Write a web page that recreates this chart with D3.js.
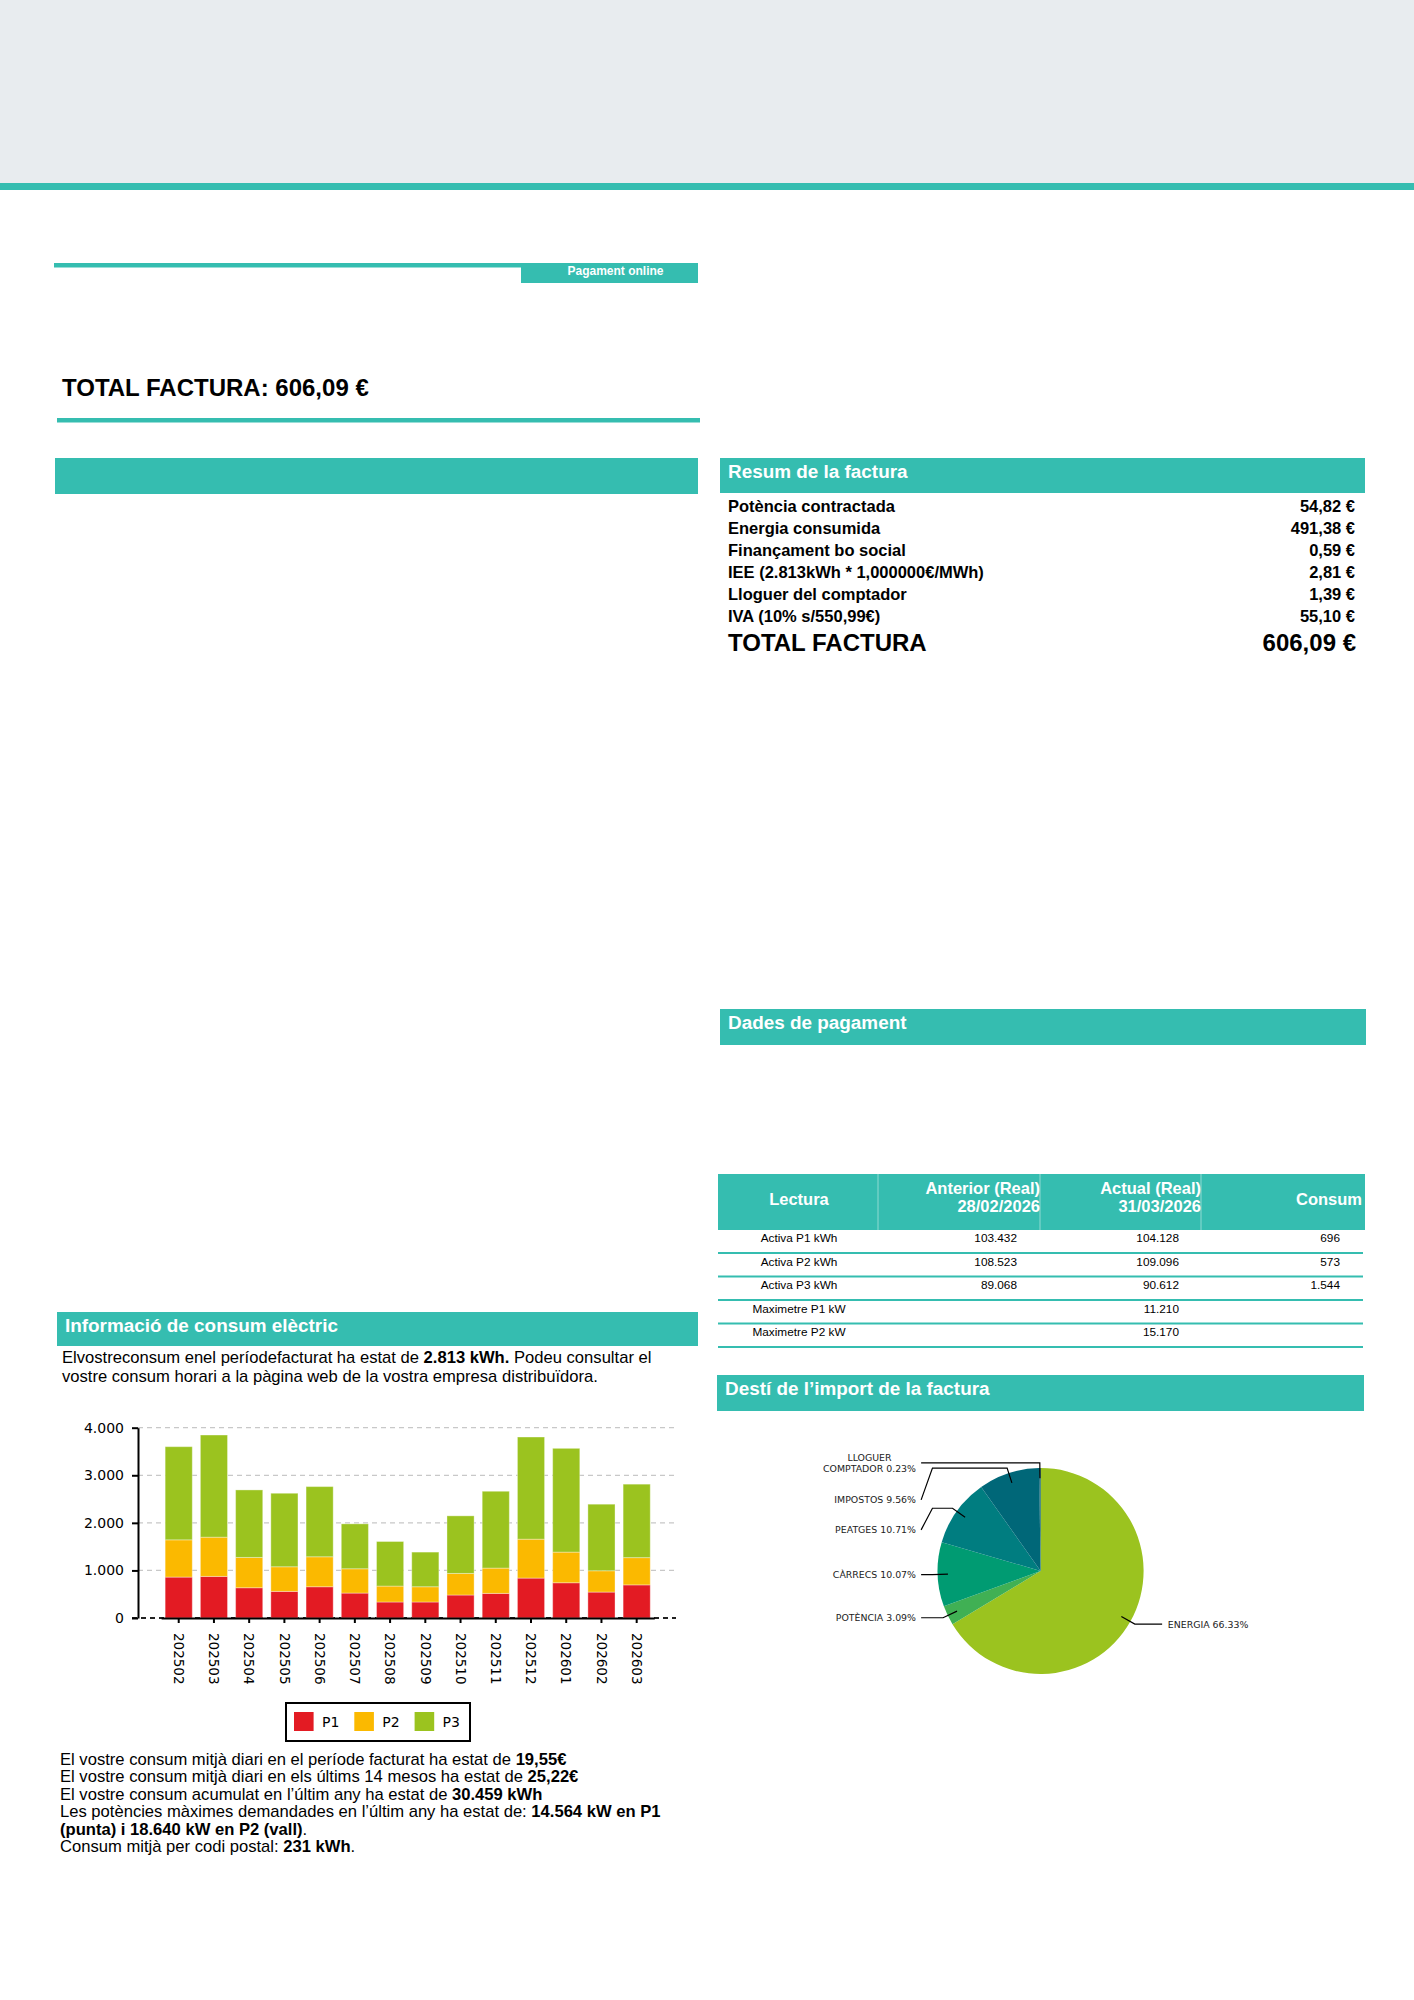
<!DOCTYPE html>
<html>
<head>
<meta charset="utf-8">
<script src="https://cdn.jsdelivr.net/npm/d3@7"></script>
<style>
  html, body { margin: 0; padding: 0; background: #fff; }
  svg { display: block; }
  text { white-space: pre; }
</style>
</head>
<body>
<script>
const months = ['202502', '202503', '202504', '202505', '202506', '202507', '202508',
                '202509', '202510', '202511', '202512', '202601', '202602', '202603'];
const p1 = [860, 874, 636, 559, 657, 524, 336, 336, 483, 517, 839, 741, 545, 696];
const p2 = [783, 825, 637, 518, 630, 511, 335, 321, 454, 532, 818, 644, 448, 573];
const p3 = [1958, 2147, 1419, 1545, 1475, 944, 937, 728, 1210, 1615, 2147, 2181, 1399, 1544];
const periodNames = ['P1', 'P2', 'P3'];
const yTicks = [0, 1000, 2000, 3000, 4000];

const pieNames = ['ENERGIA', 'POTÈNCIA', 'CÀRRECS', 'PEATGES', 'IMPOSTOS', 'LLOGUER\nCOMPTADOR'];
const pieValues = [66.33, 3.09, 10.07, 10.71, 9.56, 0.23];

const resumLabels = ['Potència contractada', 'Energia consumida', 'Finançament bo social',
                     'IEE (2.813kWh * 1,000000€/MWh)', 'Lloguer del comptador', 'IVA (10% s/550,99€)'];
const resumValues = ['54,82 €', '491,38 €', '0,59 €', '2,81 €', '1,39 €', '55,10 €'];
const totalFactura = '606,09 €';

const lecturaLabels = ['Activa P1 kWh', 'Activa P2 kWh', 'Activa P3 kWh', 'Maximetre P1 kW', 'Maximetre P2 kW'];
const lecturaAnterior = ['103.432', '108.523', '89.068', '', ''];
const lecturaActual = ['104.128', '109.096', '90.612', '11.210', '15.170'];
const lecturaConsum = ['696', '573', '1.544', '', ''];

const introLines = [
  [['Elvostreconsum enel períodefacturat ha estat de ', 0], ['2.813 kWh.', 1], [' Podeu consultar el', 0]],
  [['vostre consum horari a la pàgina web de la vostra empresa distribuïdora.', 0]]
];
const summaryLines = [
  [['El vostre consum mitjà diari en el període facturat ha estat de ', 0], ['19,55€', 1]],
  [['El vostre consum mitjà diari en els últims 14 mesos ha estat de ', 0], ['25,22€', 1]],
  [['El vostre consum acumulat en l’últim any ha estat de ', 0], ['30.459 kWh', 1]],
  [['Les potències màximes demandades en l’últim any ha estat de: ', 0], ['14.564 kW en P1', 1]],
  [['(punta) i 18.640 kW en P2 (vall)', 1], ['.', 0]],
  [['Consum mitjà per codi postal: ', 0], ['231 kWh', 1], ['.', 0]]
];

// ---- styles ----
const TEAL = '#35bdb0';
const DOC_FONT = '"Liberation Sans", Arial, sans-serif';
const CHART_FONT = '"DejaVu Sans", sans-serif';
const periodColors = ['#e31b23', '#fbb900', '#9bc31f'];
const pieColors = ['#9bc31f', '#40b054', '#009b72', '#007d80', '#006778', '#005a6e'];

const svg = d3.select('body').append('svg')
  .attr('width', 1414)
  .attr('height', 2000);

// helper: section header band with white title
function header(x0, x1, y0, y1, title) {
  svg.append('rect').attr('x', x0).attr('y', y0)
    .attr('width', x1 - x0).attr('height', y1 - y0).attr('fill', TEAL);
  if (title) {
    svg.append('text').attr('x', x0 + 8).attr('y', y0 + 20)
      .attr('font-family', DOC_FONT).attr('font-size', 18.9).attr('font-weight', 'bold')
      .attr('fill', '#fff').text(title);
  }
}

// helper: lines of text made of plain / bold runs
function richText(lines, x, y0, lineH, size) {
  lines.forEach((runs, i) => {
    const t = svg.append('text').attr('x', x).attr('y', y0 + i * lineH)
      .attr('font-family', DOC_FONT).attr('font-size', size).attr('fill', '#000');
    runs.forEach(([s, b]) => t.append('tspan').attr('font-weight', b ? 'bold' : 'normal').text(s));
  });
}

// ---- page top ----
svg.append('rect').attr('x', 0).attr('y', 0).attr('width', 1414).attr('height', 183).attr('fill', '#e8ecef');
svg.append('rect').attr('x', 0).attr('y', 183).attr('width', 1414).attr('height', 7).attr('fill', TEAL);

svg.append('rect').attr('x', 54).attr('y', 263).attr('width', 467).attr('height', 4.5).attr('fill', TEAL);
svg.append('rect').attr('x', 521).attr('y', 263).attr('width', 177).attr('height', 20).attr('fill', TEAL);
svg.append('text').attr('x', 615.5).attr('y', 275).attr('text-anchor', 'middle')
  .attr('font-family', DOC_FONT).attr('font-size', 12).attr('font-weight', 'bold')
  .attr('fill', '#fff').text('Pagament online');

svg.append('text').attr('x', 62).attr('y', 396)
  .attr('font-family', DOC_FONT).attr('font-size', 24).attr('font-weight', 'bold')
  .text('TOTAL FACTURA: ' + totalFactura);
svg.append('rect').attr('x', 57).attr('y', 418).attr('width', 643).attr('height', 4.5).attr('fill', TEAL);

header(55, 698, 458, 494, null);

// ---- Resum de la factura ----
header(720, 1365, 458, 493, 'Resum de la factura');
resumLabels.forEach((lab, i) => {
  const y = 512 + i * 22;
  svg.append('text').attr('x', 728).attr('y', y)
    .attr('font-family', DOC_FONT).attr('font-size', 16.5).attr('font-weight', 'bold').text(lab);
  svg.append('text').attr('x', 1355).attr('y', y).attr('text-anchor', 'end')
    .attr('font-family', DOC_FONT).attr('font-size', 16.5).attr('font-weight', 'bold').text(resumValues[i]);
});
svg.append('text').attr('x', 728).attr('y', 651)
  .attr('font-family', DOC_FONT).attr('font-size', 24).attr('font-weight', 'bold').text('TOTAL FACTURA');
svg.append('text').attr('x', 1356).attr('y', 651).attr('text-anchor', 'end')
  .attr('font-family', DOC_FONT).attr('font-size', 24).attr('font-weight', 'bold').text(totalFactura);

// ---- Dades de pagament ----
header(720, 1366, 1009, 1045, 'Dades de pagament');

// ---- lectures table ----
const tbl = { x0: 718, x1: 1365, y0: 1174, y1: 1230, rowH: 23.5 };
svg.append('rect').attr('x', tbl.x0).attr('y', tbl.y0)
  .attr('width', tbl.x1 - tbl.x0).attr('height', tbl.y1 - tbl.y0).attr('fill', TEAL);
[878, 1040, 1201].forEach(x => {
  svg.append('line').attr('x1', x).attr('x2', x).attr('y1', tbl.y0).attr('y2', tbl.y1)
    .attr('stroke', '#8fdad2').attr('stroke-width', 1);
});
const hdr = (x, y, anchor, s) => svg.append('text').attr('x', x).attr('y', y).attr('text-anchor', anchor)
  .attr('font-family', DOC_FONT).attr('font-size', 16.5).attr('font-weight', 'bold').attr('fill', '#fff').text(s);
hdr(799, 1205, 'middle', 'Lectura');
hdr(1040, 1194, 'end', 'Anterior (Real)');
hdr(1040, 1212, 'end', '28/02/2026');
hdr(1201, 1194, 'end', 'Actual (Real)');
hdr(1201, 1212, 'end', '31/03/2026');
hdr(1362, 1205, 'end', 'Consum');

lecturaLabels.forEach((lab, i) => {
  const y = 1242 + i * tbl.rowH;
  const cell = (x, anchor, s) => svg.append('text').attr('x', x).attr('y', y).attr('text-anchor', anchor)
    .attr('font-family', DOC_FONT).attr('font-size', 11.8).text(s);
  cell(799, 'middle', lab);
  cell(1017, 'end', lecturaAnterior[i]);
  cell(1179, 'end', lecturaActual[i]);
  cell(1340, 'end', lecturaConsum[i]);
  svg.append('line').attr('x1', tbl.x0).attr('x2', 1363)
    .attr('y1', y + 11).attr('y2', y + 11).attr('stroke', TEAL).attr('stroke-width', 2);
});

// ---- Informació de consum elèctric ----
header(57, 698, 1312, 1346, 'Informació de consum elèctric');
richText(introLines, 62, 1363, 18.5, 16.6);

// stacked bar chart
const chart = { left: 138, right: 676, top: 1427.7, bottom: 1618 };
const x = d3.scaleBand().domain(months).range([161.1, 654.3]).paddingInner(0.23).paddingOuter(0.115);
const y = d3.scaleLinear().domain([0, 4000]).range([chart.bottom, chart.top]);
const fmt = d3.formatLocale({ decimal: ',', thousands: '.', grouping: [3], currency: ['', '€'] }).format(',');

const rows = months.map((m, i) => ({ month: m, P1: p1[i], P2: p2[i], P3: p3[i] }));
const stacked = d3.stack().keys(periodNames)(rows);

const g = svg.append('g');
g.selectAll('.grid').data(yTicks.filter(v => v > 0)).enter().append('line')
  .attr('x1', chart.left).attr('x2', chart.right)
  .attr('y1', d => y(d)).attr('y2', d => y(d))
  .attr('stroke', '#c8c8c8').attr('stroke-width', 1.2).attr('stroke-dasharray', '5,4');
g.append('line').attr('x1', chart.left - 6).attr('x2', chart.right)
  .attr('y1', y(0)).attr('y2', y(0))
  .attr('stroke', '#222').attr('stroke-width', 2).attr('stroke-dasharray', '5,4');

g.selectAll('.layer').data(stacked).enter().append('g')
  .attr('fill', (d, i) => periodColors[i])
  .selectAll('rect').data(d => d).enter().append('rect')
  .attr('x', d => x(d.data.month))
  .attr('y', d => y(d[1]))
  .attr('width', x.bandwidth())
  .attr('height', d => y(d[0]) - y(d[1]))
  .attr('stroke', 'rgba(255,255,255,0.35)').attr('stroke-width', 1);

const yAxis = g.append('g').attr('transform', `translate(${chart.left},0)`)
  .call(d3.axisLeft(y).tickValues(yTicks).tickFormat(fmt).tickSize(6).tickSizeOuter(0).tickPadding(8));
yAxis.select('.domain').attr('stroke-width', 2);
yAxis.selectAll('.tick line').attr('stroke-width', 2);
yAxis.selectAll('text').attr('font-family', CHART_FONT).attr('font-size', 14).attr('fill', '#000');

const xAxis = g.append('g').attr('transform', `translate(0,${chart.bottom})`)
  .call(d3.axisBottom(x).tickSize(5).tickSizeOuter(0));
xAxis.select('.domain').attr('stroke-width', 2);
xAxis.selectAll('.tick line').attr('stroke-width', 2);
xAxis.selectAll('text')
  .attr('font-family', CHART_FONT).attr('font-size', 13.5).attr('fill', '#000')
  .attr('transform', 'rotate(90)')
  .attr('x', 15).attr('y', 0).attr('dy', '0.35em')
  .attr('text-anchor', 'start');

// legend
const legend = svg.append('g');
legend.append('rect').attr('x', 286).attr('y', 1703).attr('width', 184).attr('height', 38)
  .attr('fill', '#fff').attr('stroke', '#000').attr('stroke-width', 2);
periodNames.forEach((name, i) => {
  const lx = 294 + i * 60.3;
  legend.append('rect').attr('x', lx).attr('y', 1712).attr('width', 19.6).attr('height', 19)
    .attr('fill', periodColors[i]);
  legend.append('text').attr('x', lx + 28).attr('y', 1727)
    .attr('font-family', CHART_FONT).attr('font-size', 14).text(name);
});

richText(summaryLines, 60, 1765, 17.45, 16.6);

// ---- Destí de l'import de la factura ----
header(717, 1364, 1375, 1411, 'Destí de l’import de la factura');

const pie = { cx: 1040.6, cy: 1571, r: 103 };
const arcs = d3.pie().sort(null).value(d => d)(pieValues);
const arc = d3.arc().innerRadius(0).outerRadius(pie.r);
const pg = svg.append('g').attr('transform', `translate(${pie.cx},${pie.cy})`);
pg.selectAll('path').data(arcs).enter().append('path')
  .attr('d', arc).attr('fill', (d, i) => pieColors[i]);

// label placement: start at 0.9r on the mid angle, push left labels apart
const labels = arcs.map((a, i) => {
  const mid = (a.startAngle + a.endAngle) / 2;
  const s = Math.sin(mid), c = Math.cos(mid);
  const lines = pieNames[i].split('\n');
  lines[lines.length - 1] += ' ' + pieValues[i].toFixed(2) + '%';
  return { s, c, side: s >= 0 ? 1 : -1, y0: -1.05 * pie.r * c, lines };
});
[-1, 1].forEach(side => {
  const group = labels.filter(l => l.side === side).sort((a, b) => a.y0 - b.y0);
  let prev = null;
  group.forEach(l => {
    l.yt = prev ? Math.max(l.y0, prev.yt + 30 + 7 * (prev.lines.length - 1)) : l.y0;
    prev = l;
  });
});

labels.forEach(l => {
  const r = pie.r;
  const pts = [
    [0.9 * r * l.s, -0.9 * r * l.c],
    [1.05 * r * l.s, -1.05 * r * l.c],
    [l.side * 1.05 * r, l.y0],
    [l.side * (l.side > 0 ? 1.18 : 1.16) * r, l.yt]
  ];
  pg.append('path').attr('d', d3.line()(pts))
    .attr('fill', 'none').attr('stroke', '#000').attr('stroke-width', 1.2);

  const tx = l.side * (l.side > 0 ? 1.235 : 1.21) * r;
  const t = pg.append('text').attr('font-family', CHART_FONT).attr('font-size', 9.4).attr('fill', '#222');
  const n = l.lines.length;
  const spans = l.lines.map((s, i) => t.append('tspan')
    .attr('y', l.yt + 3.5 + (i - (n - 1) / 2) * 10.6).text(s));
  if (n === 1) {
    spans[0].attr('x', tx).attr('text-anchor', l.side < 0 ? 'end' : 'start');
  } else {
    // multi-line label: centred lines, block edge on the label position
    const w = d3.max(spans, sp => sp.node().getComputedTextLength());
    const centre = tx + (l.side < 0 ? -w / 2 : w / 2);
    spans.forEach(sp => sp.attr('x', centre).attr('text-anchor', 'middle'));
  }
});
</script>
</body>
</html>
